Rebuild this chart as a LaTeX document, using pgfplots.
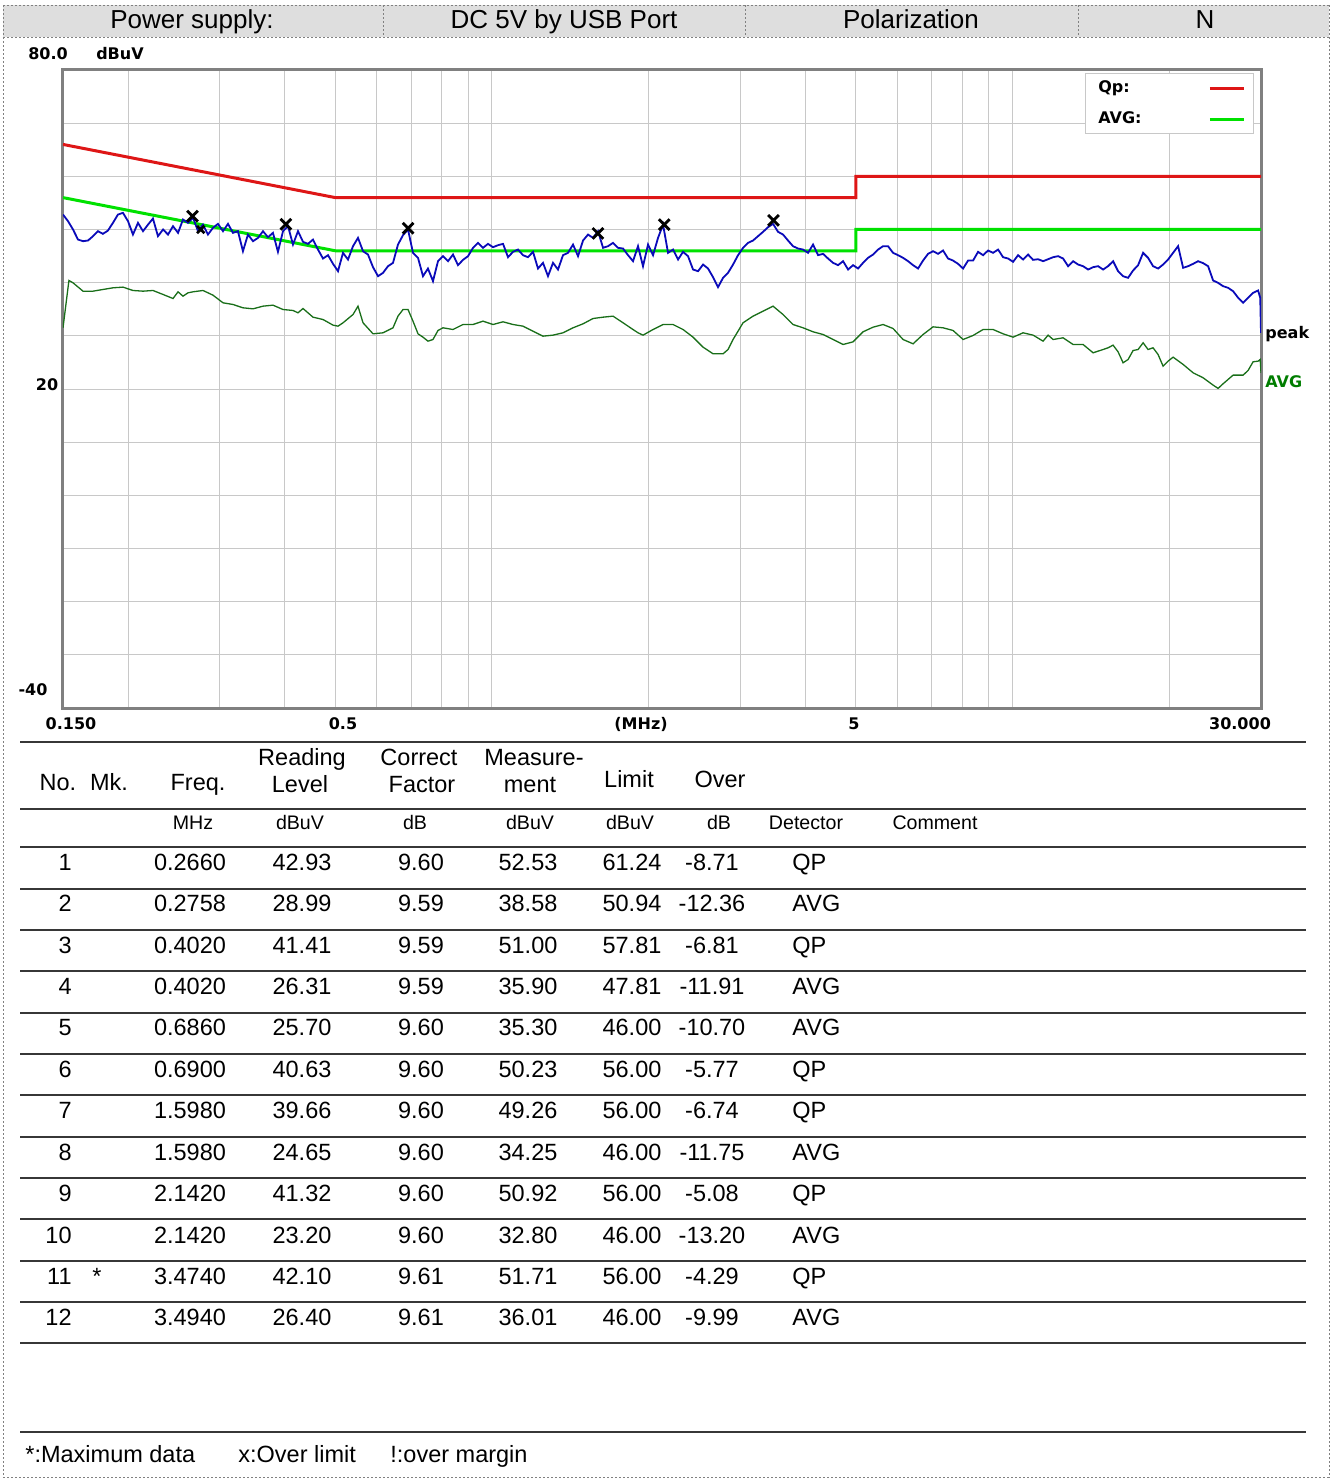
\documentclass[border=0pt]{standalone}
\usepackage{fontspec}
\setmainfont{Liberation Sans}
\newfontfamily\lblfont{DejaVu Sans}
\usepackage{pgfplots}
\pgfplotsset{compat=1.18}

\definecolor{qpred}{RGB}{222,22,22}
\definecolor{avggreen}{RGB}{0,225,0}
\definecolor{peakblue}{RGB}{10,10,185}
\definecolor{avgtrace}{RGB}{25,110,25}
\definecolor{avgtext}{RGB}{0,125,0}
\definecolor{gridgray}{RGB}{200,200,200}
\definecolor{framegray}{RGB}{128,128,128}
\definecolor{headgray}{RGB}{222,222,222}
\definecolor{rulegray}{RGB}{55,55,55}

\newcommand\hdr{\fontsize{13}{15}\selectfont}
\newcommand\tbl{\fontsize{11.75}{14}\selectfont}
\newcommand\unt{\fontsize{9.8}{12}\selectfont}
\newcommand\lbl{\lblfont\bfseries\fontsize{8}{10}\selectfont}

\begin{document}
\begin{tikzpicture}
\useasboundingbox (0,0) rectangle (666pt,-739.5pt);

% page frame and header row (1 unit = 1 px of the reference)
\begin{scope}[x=0.5pt,y=-0.5pt]
\fill[headgray] (3,5) rectangle (1329,37);
\begin{scope}[gray, line width=0.5pt, dash pattern=on 1pt off 1pt]
\draw (3,5) -- (1329,5);
\draw (3,37) -- (1329,37);
\draw (3,5) -- (3,1477) -- (1329,1477) -- (1329,5);
\foreach \x in {383,745,1078} \draw (\x,5) -- (\x,37);
\end{scope}
\end{scope}

\begin{axis}[
  at={(31.5pt,-354pt)}, anchor=south west,
  scale only axis, width=599pt, height=319pt,
  xmode=log, xmin=0.15, xmax=30, ymin=-40, ymax=80,
  xtick={0.2,0.3,0.4,0.5,0.6,0.7,0.8,0.9,1,2,3,4,5,6,7,8,9,10,20},
  ytick={-30,-20,-10,0,10,20,30,40,50,60,70},
  xticklabel=\empty, yticklabel=\empty,
  xminorticks=false, major tick length=0pt,
  grid=major, major grid style={gridgray, line width=0.5pt},
  axis line style={framegray, line width=1.5pt},
  legend plot pos=right,
  legend style={at={(0.853,0.995)}, anchor=north west, draw=gridgray,
    line width=0.5pt, fill=white, inner xsep=4pt, inner ysep=1pt, row sep=3pt,
    font=\lbl,
    nodes={text width=52.5pt, align=left, inner sep=2.5pt}},
]
% limits
\addplot[qpred, line width=1.5pt] coordinates {(0.15,66) (0.5,56) (5,56) (5,60) (30,60)};
\addlegendentry{Qp:}
\addplot[avggreen, line width=1.5pt] coordinates {(0.15,56) (0.5,46) (5,46) (5,50) (30,50)};
\addlegendentry{AVG:}

% average trace
\addplot[avgtrace, line width=0.65pt, forget plot] coordinates {
(0.1500,31.51) (0.1540,40.41) (0.1568,39.97) (0.1639,38.40) (0.1713,38.40) (0.1790,38.72) (0.1871,39.03) (0.1956,39.16)
(0.2044,38.53) (0.2137,38.40) (0.2233,38.53) (0.2335,37.78) (0.2440,37.02) (0.2495,38.28) (0.2550,37.46) (0.2607,38.09)
(0.2666,38.28) (0.2786,38.53) (0.2912,37.65) (0.3044,36.21) (0.3181,35.90) (0.3325,35.27) (0.3476,35.08) (0.3633,35.58)
(0.3797,35.77) (0.3969,34.95) (0.4148,34.77) (0.4241,34.33) (0.4336,35.14) (0.4532,33.51) (0.4737,33.07) (0.4952,32.01)
(0.5062,31.82) (0.5175,32.45) (0.5409,34.01) (0.5530,35.58) (0.5654,32.45) (0.5910,30.38) (0.6177,30.57) (0.6456,31.51)
(0.6600,33.70) (0.6748,34.95) (0.6899,34.95) (0.7053,32.76) (0.7211,30.38) (0.7372,29.75) (0.7537,29.00) (0.7706,29.31)
(0.7878,31.01) (0.8054,31.51) (0.8418,31.19) (0.8799,32.13) (0.9197,32.13) (0.9612,32.76) (1.0047,32.13) (1.0502,32.64)
(1.0976,32.13) (1.1472,31.82) (1.1991,30.88) (1.2533,29.94) (1.3100,30.13) (1.3692,30.57) (1.4313,31.51) (1.4961,32.26)
(1.5638,33.26) (1.6345,33.51) (1.7084,33.70) (1.7857,32.45) (1.8664,31.19) (1.9081,30.57) (1.9508,30.13) (2.0390,31.19)
(2.1312,32.13) (2.2276,32.13) (2.3283,31.19) (2.4336,29.75) (2.5437,27.87) (2.6587,26.62) (2.7789,26.62) (2.8410,27.43)
(2.9046,29.31) (3.0360,32.45) (3.1732,33.70) (3.3168,34.64) (3.4668,35.58) (3.6236,34.01) (3.7875,32.13) (3.9587,31.51)
(4.1378,30.76) (4.3248,30.25) (4.5204,29.31) (4.7249,28.37) (4.9386,28.87) (5.1620,30.76) (5.3954,31.63) (5.6394,32.13)
(5.8944,31.38) (6.1610,29.31) (6.4397,28.50) (6.7308,30.25) (7.0353,31.69) (7.3535,31.51) (7.6860,31.01) (8.0336,29.31)
(8.3970,30.07) (8.7767,31.19) (9.1737,31.19) (9.5885,30.38) (10.022,29.75) (10.475,30.57) (10.949,30.13) (11.444,29.00)
(11.700,30.13) (11.962,29.31) (12.503,29.63) (13.068,28.37) (13.659,28.37) (14.277,26.81) (14.922,27.43) (15.255,27.75)
(15.597,28.25) (15.946,26.99) (16.302,24.93) (16.666,25.55) (17.040,27.24) (17.421,27.43) (17.811,28.69) (18.209,27.43)
(18.616,27.75) (19.032,26.49) (19.458,24.30) (19.893,25.24) (20.338,25.99) (21.258,24.62) (22.219,23.05) (23.224,22.11)
(24.274,20.73) (24.816,20.11) (25.372,20.99) (26.520,22.61) (27.719,22.61) (28.338,23.49) (28.973,25.12) (29.620,25.24)
(29.90,25.55) (30.00,23.05)
};

% peak trace
\addplot[peakblue, line width=0.9pt, forget plot] coordinates {
(0.1500,52.81) (0.1534,51.56) (0.1568,50.00) (0.1603,48.11) (0.1639,47.80) (0.1676,47.93) (0.1713,48.74) (0.1751,49.68)
(0.1790,49.18) (0.1830,49.80) (0.1871,51.25) (0.1913,52.81) (0.1956,53.13) (0.2000,51.56) (0.2044,49.05) (0.2090,51.25)
(0.2137,49.68) (0.2185,50.93) (0.2233,52.06) (0.2283,48.74) (0.2335,50.00) (0.2387,49.05) (0.2440,50.62) (0.2495,49.37)
(0.2550,51.87) (0.2607,51.25) (0.2666,52.19) (0.2726,49.68) (0.2786,50.93) (0.2848,49.05) (0.2912,50.31) (0.2977,51.06)
(0.3044,49.68) (0.3112,51.06) (0.3181,49.37) (0.3252,49.68) (0.3325,45.92) (0.3399,49.05) (0.3476,47.80) (0.3554,48.43)
(0.3633,49.68) (0.3714,48.55) (0.3797,49.37) (0.3882,45.80) (0.3969,49.68) (0.4058,50.62) (0.4148,47.17) (0.4241,49.68)
(0.4336,47.68) (0.4433,47.30) (0.4532,48.11) (0.4633,46.23) (0.4737,44.54) (0.4843,45.17) (0.4952,43.54) (0.5062,42.16)
(0.5175,45.61) (0.5291,44.35) (0.5409,46.86) (0.5530,48.43) (0.5654,45.92) (0.5780,45.29) (0.5910,42.91) (0.6042,41.22)
(0.6177,41.85) (0.6315,43.10) (0.6456,43.73) (0.6600,47.17) (0.6748,48.93) (0.6899,50.00) (0.7053,45.61) (0.7211,44.67)
(0.7372,41.22) (0.7537,42.66) (0.7706,40.28) (0.7878,44.04) (0.8054,44.98) (0.8234,44.04) (0.8418,45.29) (0.8606,43.29)
(0.8799,44.29) (0.8996,44.98) (0.9197,46.55) (0.9403,47.49) (0.9612,46.55) (0.9827,47.30) (1.0047,46.67) (1.0272,47.05)
(1.0502,47.30) (1.0737,44.79) (1.0976,45.80) (1.1221,46.23) (1.1472,45.17) (1.1728,44.79) (1.1991,45.80) (1.2259,42.66)
(1.2533,43.73) (1.2813,41.22) (1.3100,43.73) (1.3393,42.47) (1.3692,45.17) (1.3998,45.61) (1.4313,47.17) (1.4633,44.98)
(1.4961,47.93) (1.5295,49.05) (1.5638,48.43) (1.5987,49.68) (1.6345,46.55) (1.6710,46.86) (1.7084,47.49) (1.7466,46.55)
(1.7857,46.42) (1.8256,45.17) (1.8664,44.04) (1.9081,46.86) (1.9508,43.10) (1.9944,47.17) (2.0390,45.17) (2.0846,48.43)
(2.1312,50.93) (2.1788,45.61) (2.2276,46.23) (2.2774,44.35) (2.3283,45.80) (2.3803,44.98) (2.4336,42.47) (2.4880,42.16)
(2.5437,43.41) (2.6005,42.66) (2.6587,41.03) (2.7181,39.16) (2.7789,40.91) (2.8410,41.85) (2.9046,43.41) (2.9695,45.17)
(3.0360,46.55) (3.1038,47.49) (3.1732,47.93) (3.2441,48.74) (3.3168,49.56) (3.3909,50.43) (3.4668,51.06) (3.5443,49.56)
(3.6236,49.05) (3.7045,47.93) (3.7875,46.86) (3.8721,46.42) (3.9587,46.23) (4.0472,45.61) (4.1378,47.17) (4.2302,45.17)
(4.3248,45.42) (4.4214,44.54) (4.5204,43.73) (4.6214,43.29) (4.7249,44.04) (4.8305,42.47) (4.9386,43.29) (5.0489,42.66)
(5.1620,43.73) (5.2774,44.67) (5.3954,45.29) (5.5160,46.23) (5.6394,46.86) (5.7654,46.86) (5.8944,45.61) (6.0261,45.17)
(6.1610,44.67) (6.2987,44.04) (6.4397,43.29) (6.5836,42.66) (6.7308,44.16) (6.8812,45.42) (7.0353,45.92) (7.1925,45.42)
(7.3535,46.05) (7.5178,44.54) (7.6860,44.16) (7.8577,43.54) (8.0336,42.66) (8.2131,44.16) (8.3970,44.16) (8.5847,45.80)
(8.7767,45.17) (8.9728,46.05) (9.1737,45.61) (9.3786,46.23) (9.5885,44.79) (9.8027,44.54) (10.022,43.92) (10.246,45.17)
(10.475,44.35) (10.709,45.29) (10.949,44.29) (11.193,44.41) (11.444,44.04) (11.700,44.41) (11.962,44.79) (12.229,44.98)
(12.503,44.54) (12.782,43.10) (13.068,44.04) (13.360,43.41) (13.659,43.10) (13.964,42.47) (14.277,42.91) (14.596,43.10)
(14.922,42.47) (15.255,43.10) (15.597,44.04) (15.946,42.16) (16.302,41.22) (16.666,40.91) (17.040,42.29) (17.421,43.29)
(17.811,45.61) (18.209,44.67) (18.616,43.10) (19.032,42.66) (19.458,43.41) (19.893,44.35) (20.338,45.61) (20.792,46.86)
(21.258,42.79) (21.733,43.10) (22.219,43.54) (22.715,44.04) (23.224,43.67) (23.743,43.10) (24.274,40.41) (24.816,39.97)
(25.372,39.34) (25.939,39.03) (26.520,38.40) (27.112,37.15) (27.719,36.21) (28.338,37.15) (28.973,38.09) (29.620,38.53)
(29.90,37.15) (30.00,30.57)
};

% QP markers
\addplot[only marks, mark=x, mark size=3.8pt, line width=1.4pt, black, forget plot] coordinates {
(0.2660,52.53) (0.4020,51.00) (0.6900,50.23) (1.5980,49.26) (2.1420,50.92) (3.4740,51.71)};
\addplot[only marks, mark=x, mark size=2.6pt, line width=1.3pt, black, forget plot] coordinates {
(0.2758,50.0)};
\end{axis}

\begin{scope}[x=0.5pt,y=-0.5pt, every node/.style={inner sep=0pt, text height=0.72em, text depth=0pt}]
% header text
\node[font=\hdr] at (192,21) {Power supply:};
\node[font=\hdr] at (564,21) {DC 5V by USB Port};
\node[font=\hdr] at (911,21) {Polarization};
\node[font=\hdr] at (1205,21) {N};

% axis labels
\node[font=\lbl] at (48,52) {80.0};
\node[font=\lbl] at (120,52) {dBuV};
\node[font=\lbl] at (47,383) {20};
\node[font=\lbl] at (33,688) {-40};
\node[font=\lbl] at (71,722) {0.150};
\node[font=\lbl] at (343,722) {0.5};
\node[font=\lbl] at (641,722) {(MHz)};
\node[font=\lbl] at (854,722) {5};
\node[font=\lbl] at (1240,722) {30.000};
\node[font=\lbl, anchor=west] at (1265,331) {peak};
\node[font=\lbl, anchor=west, text=avgtext] at (1265,380) {AVG};

% table rules
\foreach \y in {742,809,847,888.5,930,971,1012.5,1054,1095,1136.5,1178,1219,1260.5,1302,1343,1432}
  \draw[rulegray, line width=1pt] (20,\y) -- (1306,\y);

% table head
\node[font=\tbl] at (58,783) {No.};
\node[font=\tbl] at (109,783) {Mk.};
\node[font=\tbl] at (198,783) {Freq.};
\node[font=\tbl] at (302,758) {Reading};
\node[font=\tbl] at (300,785) {Level};
\node[font=\tbl] at (419,758) {Correct};
\node[font=\tbl] at (422,785) {Factor};
\node[font=\tbl] at (534,758) {Measure-};
\node[font=\tbl] at (530,785) {ment};
\node[font=\tbl] at (629,780) {Limit};
\node[font=\tbl] at (720,780) {Over};
\node[font=\unt] at (193,822) {MHz};
\node[font=\unt] at (300,822) {dBuV};
\node[font=\unt] at (415,822) {dB};
\node[font=\unt] at (530,822) {dBuV};
\node[font=\unt] at (630,822) {dBuV};
\node[font=\unt] at (719,822) {dB};
\node[font=\unt] at (806,822) {Detector};
\node[font=\unt] at (935,822) {Comment};

% table rows
\foreach \y/\no/\mk/\fr/\rd/\cf/\ms/\lm/\ov/\dt in {
863/1/{}/0.2660/42.93/9.60/52.53/61.24/-8.71/QP,
904/2/{}/0.2758/28.99/9.59/38.58/50.94/-12.36/AVG,
946/3/{}/0.4020/41.41/9.59/51.00/57.81/-6.81/QP,
987/4/{}/0.4020/26.31/9.59/35.90/47.81/-11.91/AVG,
1028/5/{}/0.6860/25.70/9.60/35.30/46.00/-10.70/AVG,
1070/6/{}/0.6900/40.63/9.60/50.23/56.00/-5.77/QP,
1111/7/{}/1.5980/39.66/9.60/49.26/56.00/-6.74/QP,
1153/8/{}/1.5980/24.65/9.60/34.25/46.00/-11.75/AVG,
1194/9/{}/2.1420/41.32/9.60/50.92/56.00/-5.08/QP,
1236/10/{}/2.1420/23.20/9.60/32.80/46.00/-13.20/AVG,
1277/11/*/3.4740/42.10/9.61/51.71/56.00/-4.29/QP,
1318/12/{}/3.4940/26.40/9.61/36.01/46.00/-9.99/AVG}{
  \node[font=\tbl, anchor=east] at (72,\y) {\no};
  \node[font=\tbl] at (97,\y) {\mk};
  \node[font=\tbl] at (190,\y) {\fr};
  \node[font=\tbl] at (302,\y) {\rd};
  \node[font=\tbl] at (421,\y) {\cf};
  \node[font=\tbl] at (528,\y) {\ms};
  \node[font=\tbl] at (632,\y) {\lm};
  \node[font=\tbl] at (712,\y) {\ov};
  \node[font=\tbl, anchor=west] at (792,\y) {\dt};
}

% footer
\node[font=\tbl, anchor=west] at (25,1455) {*:Maximum data};
\node[font=\tbl, anchor=west] at (238,1455) {x:Over limit};
\node[font=\tbl, anchor=west] at (390,1455) {!:over margin};
\end{scope}
\end{tikzpicture}
\end{document}
